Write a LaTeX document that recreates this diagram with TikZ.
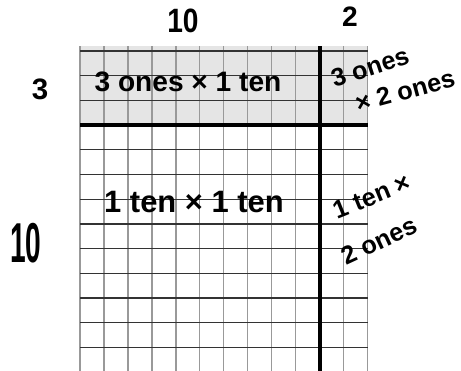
\documentclass[tikz,border=0pt]{standalone}
\usepackage{fontspec}
\usepackage{graphicx}
\setmainfont{Liberation Sans}
\usetikzlibrary{positioning}

\begin{document}
\begin{tikzpicture}[x=0.25mm, y=-0.25mm,
  vline/.style={gray!80, line width=0.9pt},
  hline/.style={black!80, line width=0.9pt},
  bigline/.style={black, line width=2.6pt},
  hand/.style={inner sep=0pt, text=black, font=\bfseries\fontsize{#1}{#1}\selectfont},
  hand/.default=20pt]
  \useasboundingbox (0,0) rectangle (461,371);

  % Shaded top band
  \fill[gray!20] (80,46) rectangle (367.7,125.1);

  % Grid: columns then rows
  \foreach \i in {0,...,12}
    \draw[vline] ({80+23.97*\i},46) -- ({80+23.97*\i},371);
  \foreach \j in {0,1,2,4,5,6,7,8,9,10,11,12}
    \draw[hline] (80,{51+24.7*\j}) -- (367.7,{51+24.7*\j});

  % Split lines
  \draw[bigline] (319.7,46) -- (319.7,371);
  \draw[bigline] (80,125.1) -- (367.7,125.1);

  % Side labels
  \node[hand=20pt] (topten) at (183,21) {\scalebox{1}[1.2]{10}};
  \node[hand=20pt] (toptwo) at (350,17) {2};
  \node[hand=21pt] (leftthree) at (40,89) {3};
  \node[hand=20pt] (leftten) at (26,243) {\scalebox{1}[2]{10}};

  % Products
  \node[hand=20pt] (onesten) at (188,82) {3 ones × 1 ten};
  \node[hand=22pt] (tenten) at (194,202) {1 ten × 1 ten};
  \node[hand=18pt, rotate=18] (threeones) at (370,67) {3 ones};
  \node[hand=18pt, rotate=15] (twoones) at (405,91) {× 2 ones};
  \node[hand=18pt, rotate=22] (tentimes) at (372,196) {1 ten ×};
  \node[hand=18pt, rotate=25] (tentwo) at (379,241) {2 ones};
\end{tikzpicture}
\end{document}
